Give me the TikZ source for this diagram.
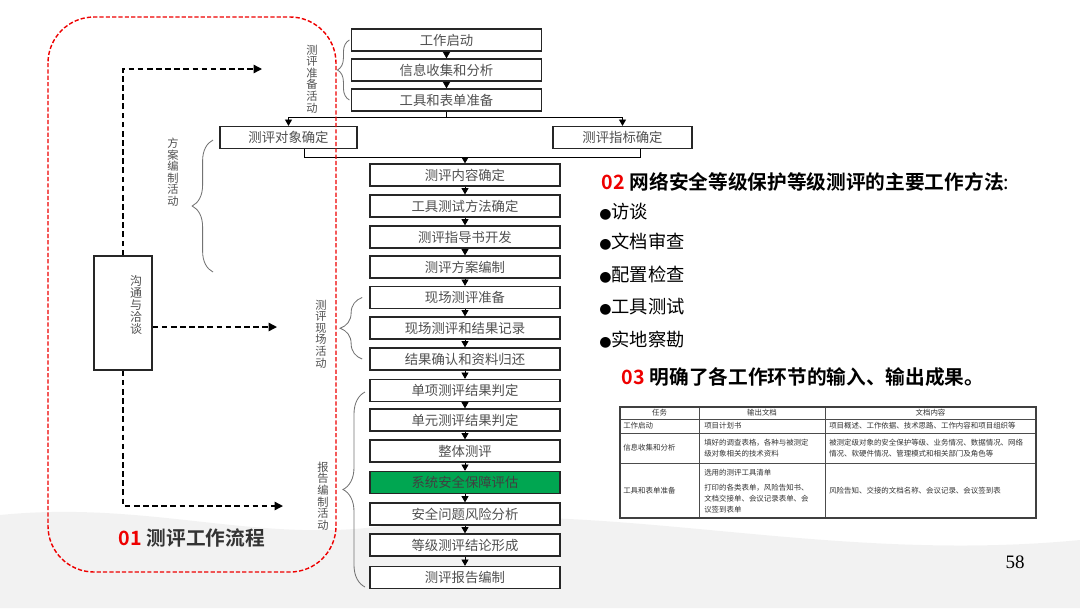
\documentclass[tikz,border=0pt]{standalone}
\usepackage{fontspec}
\usepackage{tikz}
\usetikzlibrary{arrows.meta, decorations.pathreplacing, calc}
\usepackage{xcolor}
\newfontfamily\cjk{Noto Sans CJK SC}[BoldFont={Noto Sans CJK SC Bold}]
\newfontfamily\numfont{Liberation Serif}
\newfontfamily\dejavu{DejaVu Sans}
\definecolor{tred}{RGB}{238,0,0}
\definecolor{sgreen}{RGB}{0,166,81}
\definecolor{txtgray}{RGB}{80,80,80}

\begin{document}
\begin{tikzpicture}[x=0.025cm, y=-0.025cm,
  stepbox/.style={draw=black!85, line width=0.9pt, fill=white, minimum width=4.75cm,
  minimum height=0.55cm, inner sep=0pt, font=\cjk\fontsize{9.5}{10}\selectfont, text=txtgray},
  flow/.style={-{Triangle[width=5pt,length=4.5pt]}, line width=0.6pt},
  dasharr/.style={-{Triangle[width=6pt,length=6pt]}, line width=1pt, dash pattern=on 4pt off 2.5pt},
  brc/.style={decorate, decoration={brace, amplitude=#1}, draw=black!55, line width=0.6pt},
  vlabel/.style={align=center, inner sep=0pt, font=\cjk\fontsize{8}{8.2}\selectfont, text=txtgray},
  head/.style={anchor=west, font=\cjk\bfseries\fontsize{14}{16}\selectfont},
  way/.style={anchor=west, inner sep=0pt, font=\cjk\fontsize{13}{15}\selectfont},
  tcell/.style={inner sep=0pt, align=left, font=\cjk\fontsize{5.3}{7.8}\selectfont, text=black!80}
]
\useasboundingbox (0,0) rectangle (1080,608);
% ink wash at the bottom
\fill[black!5] (0,515) .. controls (150,500) and (260,545) .. (390,525)
  .. controls (600,495) and (820,565) .. (1080,540) -- (1080,608) -- (0,608) -- cycle;

% flow chart
\node[stepbox] (start)   at (446.5,40)  {工作启动};
\node[stepbox] (collect) at (446.5,70)  {信息收集和分析};
\node[stepbox] (tools)   at (446.5,100) {工具和表单准备};
\node[stepbox, minimum width=3.425cm] (object) at (288.5,137.5) {测评对象确定};
\node[stepbox, minimum width=3.475cm] (index)  at (622.5,137.5) {测评指标确定};
\node[stepbox] (content)  at (465,175)   {测评内容确定};
\node[stepbox] (method)   at (465,206)   {工具测试方法确定};
\node[stepbox] (guide)    at (465,237)   {测评指导书开发};
\node[stepbox] (plan)     at (465,267)   {测评方案编制};
\node[stepbox] (siteprep) at (465,297.5) {现场测评准备};
\node[stepbox] (siterec)  at (465,328)   {现场测评和结果记录};
\node[stepbox] (confirm)  at (465,359)   {结果确认和资料归还};
\node[stepbox] (single)   at (465,390.5) {单项测评结果判定};
\node[stepbox] (unit)     at (465,420)   {单元测评结果判定};
\node[stepbox] (whole)    at (465,451)   {整体测评};
\node[stepbox, fill=sgreen, text=black!75] (assure) at (465,482.5) {系统安全保障评估};
\node[stepbox] (risk)     at (465,514)   {安全问题风险分析};
\node[stepbox] (concl)    at (465,545)   {等级测评结论形成};
\node[stepbox] (report)   at (465,577.5) {测评报告编制};

\draw[flow] (start) -- (collect);
\draw[flow] (collect) -- (tools);
\draw[flow] (tools.south) -- ++(0,6) -| (object);
\draw[flow] (tools.south) -- ++(0,6) -| (index);
\coordinate (merge) at (465,157.5);
\draw[line width=0.6pt] ([xshift=0.41cm]object.south) |- (merge);
\draw[line width=0.6pt] ([xshift=0.44cm]index.south) |- (merge);
\draw[flow] (merge) -- (content);
\draw[flow] (content) -- (method);   \draw[flow] (method) -- (guide);
\draw[flow] (guide) -- (plan);       \draw[flow] (plan) -- (siteprep);
\draw[flow] (siteprep) -- (siterec); \draw[flow] (siterec) -- (confirm);
\draw[flow] (confirm) -- (single);   \draw[flow] (single) -- (unit);
\draw[flow] (unit) -- (whole);       \draw[flow] (whole) -- (assure);
\draw[flow] (assure) -- (risk);      \draw[flow] (risk) -- (concl);
\draw[flow] (concl) -- (report);

% phases
\draw[brc=0.3cm] ([xshift=-1pt]tools.west) -- ([xshift=-1pt]start.west);
\draw[brc=0.52cm] (213,272) -- (213,140);
\draw[brc=0.55cm] ([xshift=-0.18cm]confirm.west) -- ([xshift=-0.18cm]siteprep.west);
\draw[brc=0.55cm] (365,587) -- (365,392);
\node[vlabel] (preplbl) at (312,79)  {测\\评\\准\\备\\活\\动};
\node[vlabel] (planlbl) at (173,172) {方\\案\\编\\制\\活\\动};
\node[vlabel] (sitelbl) at (321,334) {测\\评\\现\\场\\活\\动};
\node[vlabel] (replbl)  at (323,496) {报\\告\\编\\制\\活\\动};

% communication
\node[draw=black!85, line width=0.9pt, fill=white, minimum width=1.45cm, minimum height=2.85cm] (talk) at (123,313) {};
\node[vlabel, font=\cjk\fontsize{8.5}{8.6}\selectfont] (talktxt) at (136,305) {沟\\通\\与\\洽\\谈};
\coordinate (prepin) at (262,69);
\coordinate (sitein) at (277,327);
\coordinate (repin)  at (283,506);
\draw[dasharr] (talk.north) |- (prepin);
\draw[dasharr] (talk.east |- sitein) -- (sitein);
\draw[dasharr] (talk.south) |- (repin);

\draw[tred, line width=1pt, dash pattern=on 3pt off 1.5pt, rounded corners=1.15cm] (48,17) rectangle (336,572);
\node[head, text=black!80] (flowtitle) at (114,538) {\textcolor{tred}{01} 测评工作流程};

% methods
\node[head] (methtitle) at (597,182) {\textcolor{tred}{02} 网络安全等级保护等级测评的主要工作方法\mdseries :};
\node[way] (way1) at (599,212) {{\dejavu\fontsize{10}{10}\selectfont ●}访谈};
\node[way] (way2) at (599,242) {{\dejavu\fontsize{10}{10}\selectfont ●}文档审查};
\node[way] (way3) at (599,275) {{\dejavu\fontsize{10}{10}\selectfont ●}配置检查};
\node[way] (way4) at (599,307) {{\dejavu\fontsize{10}{10}\selectfont ●}工具测试};
\node[way] (way5) at (599,340) {{\dejavu\fontsize{10}{10}\selectfont ●}实地察勘};
\node[head] (outtitle) at (617,377) {\textcolor{tred}{03} 明确了各工作环节的输入、输出成果。};

% table
\fill[white] (620,407) rectangle (1036,518);
\draw[black!70, line width=0.4pt] (699,407) -- (699,518) (825,407) -- (825,518)
  (620,419) -- (1036,419) (620,433) -- (1036,433) (620,463) -- (1036,463);
\draw[black!75, line width=0.8pt] (620,407) rectangle (1036,518);
\node[tcell] (h1) at (659.5,413) {任务};
\node[tcell] (h2) at (762,413)   {输出文档};
\node[tcell] (h3) at (930.5,413) {文档内容};
\node[tcell, anchor=west] (r1a) at (623,426) {工作启动};
\node[tcell, anchor=west] (r1b) at (704,426) {项目计划书};
\node[tcell, anchor=west] (r1c) at (829,426) {项目概述、工作依据、技术思路、工作内容和项目组织等};
\node[tcell, anchor=west] (r2a) at (623,448) {信息收集和分析};
\node[tcell, anchor=west] (r2b) at (704,448) {填好的调查表格，各种与被测定\\级对象相关的技术资料};
\node[tcell, anchor=west] (r2c) at (829,448) {被测定级对象的安全保护等级、业务情况、数据情况、网络\\情况、软硬件情况、管理模式和相关部门及角色等};
\node[tcell, anchor=west] (r3a) at (623,490.5) {工具和表单准备};
\node[tcell, anchor=west] (r3b) at (704,491) {选用的测评工具清单\\[3pt]打印的各类表单，风险告知书、\\文档交接单、会议记录表单、会\\议签到表单};
\node[tcell, anchor=west] (r3c) at (829,490.5) {风险告知、交接的文档名称、会议记录、会议签到表};

\node[font=\numfont\fontsize{13.5}{14}\selectfont] (pageno) at (1015,562) {58};
\end{tikzpicture}
\end{document}
